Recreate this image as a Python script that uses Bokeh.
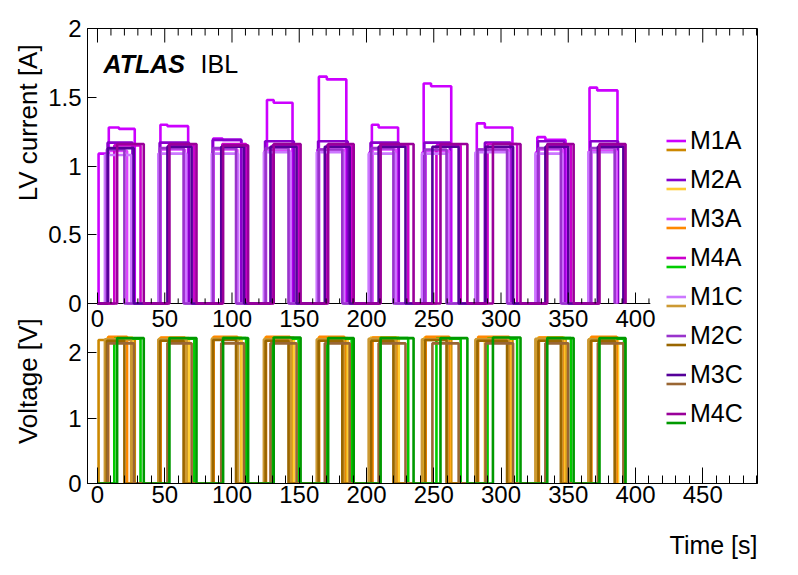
import math
from bokeh.plotting import figure
from bokeh.layouts import column, row
from bokeh.models import (Range1d, FixedTicker, SingleIntervalTicker,
                          Legend, LegendItem, Label)
from bokeh.core.properties import value
from bokeh.embed import file_html
from bokeh.resources import INLINE

# ---------------- data ----------------
modules = ["M1A", "M2A", "M3A", "M4A", "M1C", "M2C", "M3C", "M4C"]
current_colors = ["#cc00ff", "#8800cc", "#dd44ff", "#cc00cc",
                  "#cc77ff", "#9933cc", "#550099", "#990099"]
voltage_colors = ["#cc8800", "#ffcc33", "#ff8800", "#00cc00",
                  "#cc9933", "#996600", "#996633", "#009900"]

# power-on / power-off time of each module in each of the 10 cycles [s]
t_on = {
    "M1A": [0.8, 45.6, 85.3, 124.3, 163.6, 202.2, 241.6, 281.3, 326.0, 365.3],
    "M2A": [7.5, 46.2, 85.6, 124.6, 164.0, 203.0, 243.0, 288.0, 327.5, 366.5],
    "M3A": [8.0, 47.0, 86.4, 125.3, 164.8, 204.5, 244.0, 283.0, 328.2, 367.2],
    "M4A": [12.5, 52.5, 92.8, 130.0, 170.5, 210.0, 252.0, 290.0, 334.0, 372.8],
    "M1C": [5.5, 45.2, 85.0, 123.7, 163.0, 201.6, 241.2, 281.0, 325.6, 365.0],
    "M2C": [7.0, 46.5, 86.0, 125.0, 164.4, 203.5, 243.5, 282.5, 327.8, 366.8],
    "M3C": [7.7, 52.0, 92.0, 128.6, 169.0, 209.0, 249.0, 288.5, 333.0, 372.0],
    "M4C": [14.6, 53.5, 93.4, 131.0, 171.5, 210.5, 255.0, 294.0, 334.4, 373.2],
}
t_off = {
    "M1A": [27.7, 67.4, 106.8, 145.0, 185.0, 223.5, 263.0, 308.5, 348.0, 386.6],
    "M2A": [26.0, 68.0, 107.0, 146.0, 186.0, 224.0, 262.0, 307.0, 347.0, 387.0],
    "M3A": [22.0, 65.0, 104.0, 143.0, 183.5, 222.0, 261.5, 306.0, 346.0, 386.0],
    "M4A": [32.0, 72.0, 110.5, 149.5, 189.0, 231.0, 270.0, 312.0, 352.0, 391.5],
    "M1C": [25.0, 66.0, 104.5, 143.5, 183.0, 221.5, 260.5, 305.5, 345.5, 385.0],
    "M2C": [20.0, 64.0, 103.0, 142.0, 182.0, 220.0, 259.5, 304.5, 344.5, 384.5],
    "M3C": [27.0, 70.0, 109.0, 148.0, 187.5, 229.0, 268.5, 309.0, 350.0, 391.0],
    "M4C": [34.4, 73.6, 112.0, 151.0, 190.5, 235.0, 275.0, 314.5, 354.0, 392.6],
}
# M1A current: initial level, then a higher level with a small drop
m1a_up = [8.4, 46.8, 86.0, 126.0, 164.6, 204.0, 242.5, 282.0, 327.0, 365.8]
m1a_drop = [16.0, 52.0, 93.0, 131.0, 170.5, 209.0, 248.0, 288.0, 333.0, 371.5]
m1a_pre = [1.09, 1.09, 1.10, 1.11, 1.12, 1.10, 1.10, 1.09, 1.10, 1.11]
m1a_high1 = [1.28, 1.30, 1.20, 1.48, 1.65, 1.30, 1.60, 1.31, 1.21, 1.57]
m1a_high2 = [1.27, 1.29, 1.19, 1.46, 1.63, 1.28, 1.58, 1.28, 1.19, 1.55]

current_level = {
    "M2A": [1.17, 1.17, 1.19, 1.18, 1.18, 1.17, 1.17, 1.17, 1.18, 1.18],
    "M3A": [1.11, 1.12, 1.12, 1.11, 1.12, 1.12, 1.11, 1.12, 1.12, 1.11],
    "M4A": [1.15, 1.15, 1.16, 1.15, 1.15, 1.15, 1.15, 1.16, 1.15, 1.15],
    "M1C": [1.08, 1.09, 1.09, 1.10, 1.10, 1.09, 1.09, 1.10, 1.09, 1.10],
    "M2C": [1.12, 1.13, 1.13, 1.13, 1.12, 1.13, 1.12, 1.12, 1.13, 1.13],
    "M3C": [1.13, 1.14, 1.14, 1.14, 1.14, 1.14, 1.14, 1.14, 1.14, 1.14],
    "M4C": [1.16, 1.16, 1.15, 1.16, 1.16, 1.16, 1.16, 1.16, 1.16, 1.16],
}
voltage_level = {
    "M1A": [2.19, 2.19, 2.20, 2.19, 2.19, 2.20, 2.19, 2.19, 2.20, 2.19],
    "M2A": [2.23, 2.22, 2.23, 2.23, 2.22, 2.23, 2.23, 2.22, 2.23, 2.23],
    "M3A": [2.24, 2.23, 2.24, 2.24, 2.24, 2.23, 2.24, 2.24, 2.23, 2.24],
    "M4A": [2.21, 2.21, 2.22, 2.21, 2.21, 2.22, 2.21, 2.21, 2.22, 2.21],
    "M1C": [2.20, 2.20, 2.21, 2.20, 2.20, 2.21, 2.20, 2.20, 2.21, 2.20],
    "M2C": [2.18, 2.18, 2.19, 2.18, 2.18, 2.18, 2.19, 2.18, 2.18, 2.18],
    "M3C": [2.14, 2.14, 2.14, 2.14, 2.14, 2.14, 2.14, 2.14, 2.14, 2.14],
    "M4C": [2.22, 2.22, 2.22, 2.23, 2.22, 2.22, 2.22, 2.23, 2.22, 2.22],
}

time_ticks_major = [0, 50, 100, 150, 200, 250, 300, 350, 400]
time_tick_labels = ["0", "50", "100", "150", "200", "250", "300", "350", "400"]
time_ticks_minor = [t for t in range(0, 411, 10) if t % 50 != 0]
top_ticks_major = [0, 50, 100, 150, 200, 250, 300, 350, 400, 450]
top_ticks_minor = [t for t in range(0, 491, 10) if t % 50 != 0]
current_ticks = [0, 0.5, 1, 1.5, 2]
current_tick_labels = ["0", "0.5", "1", "1.5", "2"]
voltage_ticks = [0, 1, 2]
voltage_tick_labels = ["0", "1", "2"]
axis_titles = ["LV current [A]", "Voltage [V]"]

# ---------------- layout ----------------
X_START, X_END = -7.43, 490.7
TOP_X_END = 411.0
CUR_START, CUR_END = -1.309, 2.0
VOLT_START, VOLT_END = 0.0, 6.947
FONT = "Liberation Sans"
TOTAL_W, MAIN_H, BOTTOM_H, STRIP_W = 790, 518, 41, 44


def cur_to_volt(c):
    return VOLT_START + (c - CUR_START) / (CUR_END - CUR_START) * (VOLT_END - VOLT_START)


def bare_figure(w, h):
    f = figure(width=w, height=h, x_range=Range1d(0, w), y_range=Range1d(0, h),
               output_backend="svg", toolbar_location=None,
               x_axis_location=None, y_axis_location=None, min_border=0)
    f.outline_line_color = None
    f.grid.visible = False
    f.background_fill_color = "white"
    f.border_fill_color = "white"
    return f


p = figure(width=TOTAL_W - STRIP_W, height=MAIN_H, x_range=Range1d(X_START, X_END),
           y_range=Range1d(VOLT_START, VOLT_END),
           output_backend="svg", toolbar_location=None,
           min_border_left=43, min_border_right=33,
           min_border_top=28, min_border_bottom=35)
p.extra_y_ranges = {"cur": Range1d(CUR_START, CUR_END)}
p.grid.visible = False
p.outline_line_color = "black"
p.outline_line_width = 1
p.background_fill_color = "white"
p.border_fill_color = "white"

# bottom time axis
p.xaxis.ticker = SingleIntervalTicker(interval=50, num_minor_ticks=5)
for ax in p.xaxis:
    ax.major_tick_in = 16
    ax.major_tick_out = 0
    ax.minor_tick_in = 8
    ax.minor_tick_out = 0
    ax.major_label_text_font = FONT
    ax.major_label_text_font_size = "24px"
    ax.major_label_text_color = "black"
    ax.major_label_standoff = 2
    ax.axis_line_color = "black"

# left axis: voltage ticks (lower part) and current ticks (upper part)
left_pos = [float(v) for v in voltage_ticks] + [cur_to_volt(c) for c in current_ticks]
left_lab = voltage_tick_labels + current_tick_labels
for ax in p.yaxis:
    ax.ticker = FixedTicker(ticks=left_pos, minor_ticks=[])
    ax.major_label_overrides = {pos: lab for pos, lab in zip(left_pos, left_lab)}
    ax.major_tick_in = 9
    ax.major_tick_out = 0
    ax.minor_tick_in = 0
    ax.minor_tick_out = 0
    ax.major_label_text_font = FONT
    ax.major_label_text_font_size = "24px"
    ax.major_label_text_color = "black"
    ax.major_label_standoff = 6

# time axis line of the upper (current) panel
p.segment(x0=[X_START], y0=[0], x1=[TOP_X_END], y1=[0], y_range_name="cur",
          line_color="black", line_width=1)


def step_path(ons, offs, levels):
    xs, ys = [0.0], [0.0]
    for a, b, lv in zip(ons, offs, levels):
        xs += [a, a, b, b]
        ys += [0.0, lv, lv, 0.0]
    return xs, ys


cur_renderers = []
volt_renderers = []
for m, cc, vc in zip(modules, current_colors, voltage_colors):
    if m == "M1A":
        xs, ys = [0.0], [0.0]
        for a, u, d, b, l0, l1, l2 in zip(t_on[m], m1a_up, m1a_drop, t_off[m],
                                          m1a_pre, m1a_high1, m1a_high2):
            xs += [a, a, u, u, d, d, b, b]
            ys += [0.0, l0, l0, l1, l1, l2, l2, 0.0]
    else:
        xs, ys = step_path(t_on[m], t_off[m], current_level[m])
    r = p.line(xs, ys, y_range_name="cur", line_color=cc, line_width=2.6)
    cur_renderers.append(r)
    vx, vy = step_path(t_on[m], t_off[m], voltage_level[m])
    r2 = p.line(vx, vy, line_color=vc, line_width=2.6)
    volt_renderers.append(r2)

# ticks of the upper time axis (pointing up) and of the top frame edge (pointing down)
p.segment(x0=time_ticks_major, y0=[0] * len(time_ticks_major),
          x1=time_ticks_major, y1=[0.08] * len(time_ticks_major),
          y_range_name="cur", line_color="black", line_width=1)
p.segment(x0=time_ticks_minor, y0=[0] * len(time_ticks_minor),
          x1=time_ticks_minor, y1=[0.037] * len(time_ticks_minor),
          y_range_name="cur", line_color="black", line_width=1)
p.segment(x0=top_ticks_major, y0=[CUR_END] * len(top_ticks_major),
          x1=top_ticks_major, y1=[CUR_END - 0.102] * len(top_ticks_major),
          y_range_name="cur", line_color="black", line_width=1)
p.segment(x0=top_ticks_minor, y0=[CUR_END] * len(top_ticks_minor),
          x1=top_ticks_minor, y1=[CUR_END - 0.051] * len(top_ticks_minor),
          y_range_name="cur", line_color="black", line_width=1)
p.text(x=time_ticks_major, y=[-0.109] * len(time_ticks_major), text=time_tick_labels,
       y_range_name="cur", text_font=value(FONT), text_font_size="24px",
       text_align="center", text_baseline="middle", text_color="black")

# legends: current line + label, voltage line just below
leg_cur = Legend(items=[LegendItem(label=m, renderers=[r]) for m, r in zip(modules, cur_renderers)],
                 location=(579, 55))
leg_volt = Legend(items=[LegendItem(label=" ", renderers=[r]) for r in volt_renderers],
                  location=(579, 46))
for lg in (leg_cur, leg_volt):
    lg.glyph_width = 20
    lg.glyph_height = 21
    lg.label_height = 30
    lg.spacing = 9
    lg.padding = 0
    lg.margin = 0
    lg.label_standoff = 4
    lg.border_line_color = None
    lg.background_fill_alpha = 0
    lg.label_text_font = FONT
    lg.label_text_font_size = "25px"
    lg.label_text_color = "black"
p.add_layout(leg_volt)
p.add_layout(leg_cur)

# experiment label
p.add_layout(Label(x=4.5, y=1.745, y_range_name="cur", text="ATLAS",
                   text_font=FONT, text_font_size="25px", text_font_style="bold italic",
                   text_baseline="alphabetic", text_color="black"))
p.add_layout(Label(x=76.6, y=1.745, y_range_name="cur", text="IBL",
                   text_font=FONT, text_font_size="25px",
                   text_baseline="alphabetic", text_color="black"))

# left strip with the two axis titles
strip = bare_figure(STRIP_W, MAIN_H)
strip.text(x=[27, 27], y=[500, 188], text=axis_titles, angle=math.pi / 2,
           text_align="right", text_baseline="middle",
           text_font=value(FONT), text_font_size="26px", text_color="black")

# bottom strip with the time title
bottom = bare_figure(TOTAL_W, BOTTOM_H)
bottom.text(x=[757], y=[15], text=["Time [s]"], text_align="right", text_baseline="middle",
            text_font=value(FONT), text_font_size="25px", text_color="black")

layout = column(row(strip, p), bottom)
open("out.html", "w").write(file_html(layout, INLINE))
